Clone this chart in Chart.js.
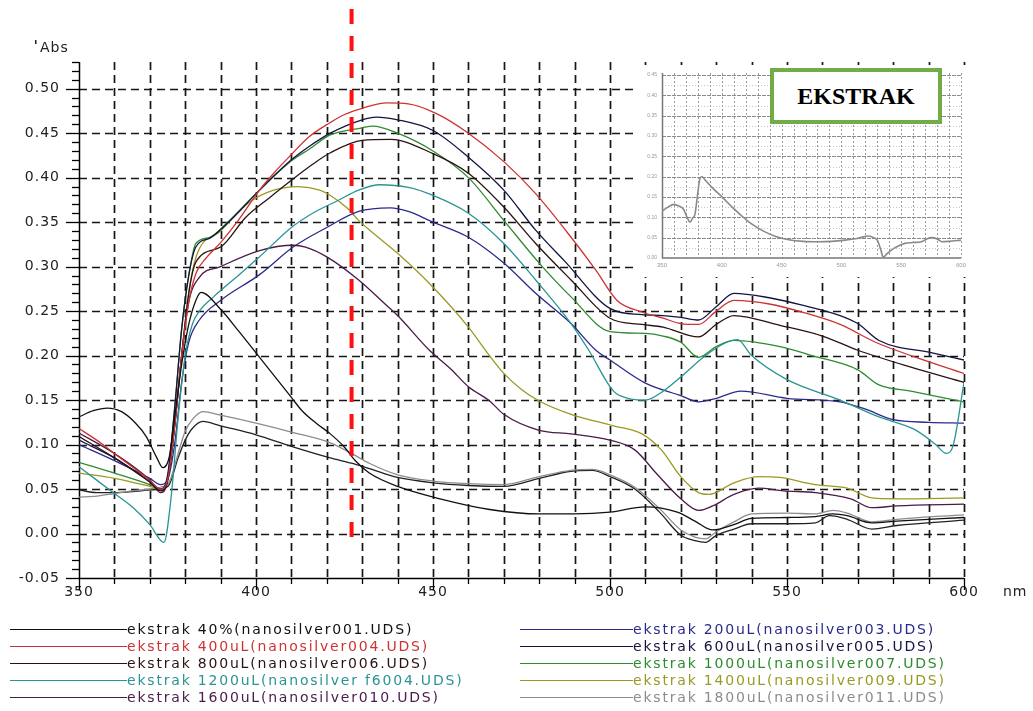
<!DOCTYPE html>
<html><head><meta charset="utf-8">
<script src="https://cdn.jsdelivr.net/npm/chart.js@4.4.1/dist/chart.umd.min.js"></script>
<style>
html,body{margin:0;padding:0;background:#fff;}
#wrap{position:relative;width:1033px;height:711px;overflow:hidden;background:#fff;}
#main{position:absolute;left:0;top:0;}
#insetBox{position:absolute;left:637px;top:65px;width:333px;height:212px;background:#fff;}
#ekstrak{position:absolute;left:770px;top:68px;width:164px;height:48px;border:4px solid #70AD47;background:#fff;
  font:bold 24px 'Liberation Serif','Times New Roman',serif;display:flex;align-items:center;justify-content:center;color:#000;}
.leg{position:absolute;font:14px 'DejaVu Sans',sans-serif;letter-spacing:1.8px;white-space:nowrap;height:17px;line-height:17px;}
.leg .ln{position:absolute;top:8px;height:1.3px;}
.leg .tx{position:absolute;top:0;}
</style></head>
<body>
<div id="wrap">
  <canvas id="main" width="1033" height="711"></canvas>
  <div id="insetBox"><canvas id="inset" width="333" height="212"></canvas></div>
  <div id="ekstrak">EKSTRAK</div>
</div>
<script>
// ---------------- DATA ----------------
const xTickValues = [350,360,370,380,390,400,410,420,430,440,450,460,470,480,490,500,510,520,530,540,550,560,570,580,590,600];
const xTickLabels = [350,400,450,500,550,600];
const yTickValues = [-0.05,0,0.05,0.10,0.15,0.20,0.25,0.30,0.35,0.40,0.45,0.50];
const redMarkerNm = 427;

const s40 = [[350,0.131],[354,0.138],[358,0.141],[362,0.137],[366,0.124],[369,0.109],[372,0.085],[373.7,0.074],[375.5,0.086],[377,0.13],[379,0.19],[381,0.235],[383,0.262],[384.5,0.271],[390,0.252],[395,0.228],[400,0.203],[405,0.178],[410,0.153],[413,0.138],[417,0.124],[421,0.112],[425,0.097],[428,0.082],[432,0.068],[440,0.053],[452,0.039],[466,0.027],[480,0.022],[490,0.022],[500,0.024],[510,0.03],[519,0.024],[524,0.014],[529,0.004],[535,0.01],[540,0.017],[550,0.018],[558,0.019],[563,0.022],[567,0.02],[574,0.012],[581,0.014],[600,0.018]];
const s400 = [[350,0.118],[355,0.105],[360,0.09],[365,0.075],[370,0.06],[373,0.05],[375,0.06],[377,0.12],[379,0.2],[381,0.26],[383,0.292],[386,0.31],[390,0.327],[395,0.352],[401,0.386],[405,0.405],[410,0.426],[415,0.446],[421,0.462],[425,0.471],[430,0.478],[437,0.484],[443,0.483],[451,0.472],[460,0.45],[470,0.418],[479,0.382],[489,0.333],[496,0.296],[502,0.262],[509,0.249],[515,0.242],[520,0.236],[525,0.235],[530,0.25],[535,0.262],[545,0.258],[555,0.248],[565,0.235],[575,0.215],[585,0.2],[600,0.18]];
const s800 = [[350,0.109],[360,0.085],[370,0.058],[373,0.048],[375,0.06],[377,0.12],[379,0.2],[381,0.27],[383,0.305],[390,0.322],[397,0.355],[404,0.378],[410,0.397],[416,0.415],[421,0.428],[430,0.442],[438,0.443],[450,0.427],[460,0.405],[470,0.367],[479,0.326],[489,0.285],[500,0.242],[509,0.235],[515,0.232],[525,0.221],[530,0.235],[535,0.245],[548,0.234],[560,0.222],[570,0.206],[585,0.187],[600,0.17]];
const s1200 = [[350,0.075],[355,0.06],[360,0.045],[365,0.03],[370,0.01],[374,-0.01],[376,0.04],[378,0.13],[380,0.2],[382,0.235],[384,0.25],[388,0.266],[395,0.29],[401,0.311],[410,0.344],[416,0.36],[423,0.374],[429,0.386],[435,0.392],[443,0.389],[450,0.38],[460,0.36],[470,0.326],[479,0.285],[489,0.236],[494,0.206],[501,0.16],[505,0.152],[510,0.15],[515,0.16],[520,0.176],[527,0.2],[533,0.215],[536,0.218],[540,0.2],[550,0.173],[565,0.15],[576,0.131],[586,0.117],[592,0.1],[595,0.09],[597,0.1],[600,0.17]];
const s1600 = [[350,0.113],[360,0.09],[370,0.06],[373,0.046],[375,0.058],[377,0.12],[379,0.2],[381,0.26],[384,0.288],[390,0.3],[401,0.318],[410.5,0.324],[414,0.322],[420,0.311],[429,0.285],[437,0.256],[440,0.245],[449,0.206],[455,0.185],[460,0.165],[466,0.149],[470,0.134],[480,0.116],[489,0.112],[500,0.105],[507,0.094],[513,0.068],[520,0.039],[525,0.026],[529,0.031],[535,0.044],[542,0.051],[549,0.048],[558,0.046],[568,0.039],[574,0.029],[581,0.031],[600,0.033]];
const s200 = [[350,0.1],[360,0.082],[370,0.062],[373,0.055],[375,0.06],[377,0.1],[379,0.17],[381,0.215],[384,0.24],[390,0.262],[401,0.291],[410.5,0.322],[420,0.344],[429,0.362],[438,0.366],[443,0.362],[450,0.35],[460,0.333],[470,0.304],[479,0.27],[489,0.236],[496,0.206],[500,0.195],[510,0.169],[520,0.155],[525,0.148],[530,0.152],[537,0.16],[550,0.152],[565,0.148],[572,0.14],[580,0.128],[590,0.125],[600,0.124]];
const s600 = [[350,0.105],[360,0.085],[370,0.058],[373,0.05],[375,0.065],[377,0.14],[379,0.23],[381,0.29],[383,0.322],[387,0.332],[392,0.349],[401,0.386],[410,0.42],[415,0.435],[421,0.45],[430,0.465],[434,0.468],[440,0.465],[450,0.453],[460,0.423],[470,0.386],[479,0.341],[487,0.307],[500,0.253],[509,0.246],[515,0.245],[520,0.243],[525,0.24],[530,0.255],[535,0.27],[545,0.265],[554,0.257],[565,0.245],[570,0.236],[576,0.217],[591,0.203],[600,0.195]];
const s1000 = [[350,0.08],[360,0.068],[370,0.055],[373,0.05],[375,0.062],[377,0.14],[379,0.23],[381,0.29],[383,0.326],[387,0.333],[392,0.35],[401,0.386],[410,0.419],[415,0.432],[421,0.448],[430,0.456],[433,0.458],[440,0.45],[450,0.43],[460,0.4],[470,0.352],[480,0.304],[489,0.266],[500,0.227],[510,0.225],[515,0.222],[520,0.215],[525,0.198],[530,0.21],[535,0.217],[548,0.21],[557,0.2],[570,0.184],[576,0.167],[585,0.16],[600,0.148]];
const s1400 = [[350,0.068],[360,0.062],[370,0.053],[373,0.05],[375,0.06],[377,0.12],[379,0.2],[381,0.27],[383,0.31],[390,0.34],[398,0.372],[405,0.386],[412,0.39],[418,0.386],[421,0.38],[426,0.365],[429,0.352],[433,0.338],[440,0.315],[449,0.281],[460,0.232],[465,0.205],[470,0.18],[475,0.162],[480,0.149],[489,0.134],[501,0.121],[509,0.112],[514.5,0.094],[520,0.064],[525,0.046],[528,0.044],[535,0.057],[542,0.064],[548,0.063],[558,0.055],[567,0.051],[574,0.04],[581,0.039],[600,0.04]];
const s1800 = [[350,0.041],[355,0.042],[360,0.045],[365,0.048],[370,0.05],[373,0.052],[375.5,0.058],[378,0.09],[380,0.115],[382,0.128],[385,0.137],[390,0.133],[400,0.124],[410,0.114],[421,0.102],[427,0.09],[432,0.079],[440,0.066],[450,0.059],[460,0.056],[470,0.055],[480,0.064],[489,0.071],[495,0.072],[500,0.066],[507,0.052],[514,0.028],[520,0.004],[524,-0.004],[527,-0.006],[530,0.002],[535,0.013],[540,0.022],[550,0.023],[558,0.022],[563,0.026],[567,0.023],[574,0.013],[581,0.016],[600,0.021]];
const sUnlabeled = [[350,0.049],[355,0.046],[360,0.046],[365,0.047],[370,0.049],[373,0.05],[375.5,0.055],[378,0.085],[380,0.105],[382,0.118],[385,0.126],[390,0.121],[400,0.111],[410,0.098],[421,0.085],[427,0.079],[432,0.073],[440,0.063],[450,0.057],[460,0.054],[470,0.053],[480,0.062],[489,0.07],[495,0.071],[500,0.064],[507,0.05],[514,0.024],[520,-0.002],[524,-0.008],[527,-0.01],[530,-0.002],[535,0.005],[540,0.011],[550,0.011],[558,0.012],[562,0.02],[567,0.016],[574,0.005],[581,0.009],[600,0.015]];

const insetSpectrum = [[350,0.115],[355,0.125],[360,0.132],[364,0.128],[368,0.12],[371,0.1],[373.5,0.088],[375.5,0.098],[377.6,0.108],[379.5,0.15],[381.8,0.196],[383.5,0.2],[386,0.192],[393,0.17],[401,0.148],[408,0.127],[415,0.108],[422,0.09],[429,0.076],[437,0.063],[445,0.053],[456,0.045],[468,0.041],[481,0.04],[492,0.041],[503,0.044],[513,0.048],[523,0.054],[527,0.05],[530,0.044],[533,0.02],[535,0.002],[538,0.01],[542,0.02],[548,0.03],[553,0.036],[560,0.038],[567,0.04],[571,0.046],[575,0.05],[580,0.047],[584,0.04],[590,0.041],[600,0.044]];
const insetXTicks = [350,400,450,500,550,600];
const insetYTicks = [0,0.05,0.10,0.15,0.20,0.25,0.30,0.35,0.40,0.45];

const series = [
  {key:'40',   label:'ekstrak 40%(nanosilver001.UDS)',        color:'#111111', pts:s40},
  {key:'400',  label:'ekstrak 400uL(nanosilver004.UDS)',      color:'#cc3333', pts:s400},
  {key:'800',  label:'ekstrak 800uL(nanosilver006.UDS)',      color:'#2a1212', pts:s800},
  {key:'1200', label:'ekstrak 1200uL(nanosilver f6004.UDS)',  color:'#2a9494', pts:s1200},
  {key:'1600', label:'ekstrak 1600uL(nanosilver010.UDS)',     color:'#4a1a4a', pts:s1600},
  {key:'200',  label:'ekstrak 200uL(nanosilver003.UDS)',      color:'#2a2a8c', pts:s200},
  {key:'600',  label:'ekstrak 600uL(nanosilver005.UDS)',      color:'#141440', pts:s600},
  {key:'1000', label:'ekstrak 1000uL(nanosilver007.UDS)',     color:'#2e8b2e', pts:s1000},
  {key:'1400', label:'ekstrak 1400uL(nanosilver009.UDS)',     color:'#9a9a22', pts:s1400},
  {key:'1800', label:'ekstrak 1800uL(nanosilver011.UDS)',     color:'#8c8c8c', pts:s1800},
  {key:'x',    label:'',                                      color:'#222222', pts:sUnlabeled}
];
const legendLeft  = ['40','400','800','1200','1600'];
const legendRight = ['200','600','1000','1400','1800'];

// ---------------- MAIN CHART ----------------
const isMajor = v => Math.abs(v/0.05 - Math.round(v/0.05)) < 1e-6;
const axesPlugin = {
  id:'axesPlugin',
  beforeDraw(chart){ chart.ctx.letterSpacing = '1px'; },
  beforeDatasetsDraw(chart){
    const {ctx, chartArea:a, scales:{x,y}} = chart;
    ctx.save();
    ctx.strokeStyle = '#161616'; ctx.lineWidth = 1.7; ctx.setLineDash([8,5]);
    yTickValues.forEach(v => { if (v <= -0.049) return;
      const py = Math.round(y.getPixelForValue(v)) + 0.5;
      ctx.beginPath(); ctx.moveTo(a.left, py); ctx.lineTo(a.right, py); ctx.stroke(); });
    xTickValues.forEach(v => { if (v === 350) return;
      const px = Math.round(x.getPixelForValue(v)) + 0.5;
      ctx.beginPath(); ctx.moveTo(px, a.top); ctx.lineTo(px, a.bottom); ctx.stroke(); });
    ctx.setLineDash([]);
    ctx.strokeStyle = '#000'; ctx.lineWidth = 1.5;
    ctx.beginPath(); ctx.moveTo(a.left+0.5, a.top); ctx.lineTo(a.left+0.5, a.bottom+0.5); ctx.lineTo(a.right, a.bottom+0.5); ctx.stroke();
    ctx.lineWidth = 1.3;
    for (let i = 0; i <= 58; i++) {
      const v = -0.05 + i*0.01;
      const py = Math.round(y.getPixelForValue(v)) + 0.5;
      const len = isMajor(v) ? 13 : 7;
      ctx.beginPath(); ctx.moveTo(a.left - len, py); ctx.lineTo(a.left, py); ctx.stroke();
    }
    xTickValues.forEach(v => {
      const px = Math.round(x.getPixelForValue(v)) + 0.5;
      const len = (v % 50 === 0) ? 12 : 6;
      ctx.beginPath(); ctx.moveTo(px, a.bottom); ctx.lineTo(px, a.bottom + len); ctx.stroke();
    });
    ctx.restore();
  },
  afterDatasetsDraw(chart){
    const {ctx, scales:{x}} = chart;
    const px = x.getPixelForValue(redMarkerNm);
    ctx.save();
    ctx.strokeStyle = '#ff1010'; ctx.lineWidth = 4; ctx.setLineDash([15,12]);
    ctx.beginPath(); ctx.moveTo(px, 9); ctx.lineTo(px, 548); ctx.stroke();
    ctx.restore();
  },
  afterDraw(chart){
    const {ctx} = chart;
    ctx.save();
    ctx.letterSpacing = '1px';
    ctx.fillStyle = '#222'; ctx.font = '14px "DejaVu Sans", sans-serif';
    ctx.textBaseline = 'middle'; ctx.textAlign = 'left';
    ctx.fillText('Abs', 40, 48);
    ctx.fillText('nm', 1003, 592);
    ctx.fillRect(35, 40, 1.5, 4);
    ctx.restore();
  }
};

new Chart(document.getElementById('main').getContext('2d'), {
  type:'line',
  data:{ datasets: series.map(s => ({
    label:s.label, data:s.pts.map(([nm,v]) => ({x:nm, y:v})),
    borderColor:s.color, backgroundColor:s.color, borderWidth:1.3, pointRadius:0,
    cubicInterpolationMode:'monotone', fill:false })) },
  options:{
    responsive:false, animation:false, devicePixelRatio:1,
    layout:{ padding:{ left:0, top:62, right:69, bottom:103 } },
    plugins:{ legend:{display:false}, tooltip:{enabled:false} },
    scales:{
      x:{ type:'linear', min:350, max:600,
          afterBuildTicks: s => { s.ticks = xTickValues.map(v => ({value:v})); },
          afterFit: s => { s.height = 30; },
          grid:{display:false, drawTicks:false}, border:{display:false},
          ticks:{ autoSkip:false, maxRotation:0, padding:6, color:'#222',
                  font:{family:'DejaVu Sans', size:14},
                  callback: v => xTickLabels.includes(v) ? String(v) : '' } },
      y:{ type:'linear', min:-0.05, max:0.53,
          afterBuildTicks: s => { s.ticks = yTickValues.map(v => ({value:v})); },
          afterFit: s => { s.width = 79; },
          grid:{display:false, drawTicks:false}, border:{display:false},
          ticks:{ padding:19, color:'#222', font:{family:'DejaVu Sans', size:14},
                  callback: v => v.toFixed(2) } }
    }
  },
  plugins:[axesPlugin]
});

// ---------------- INSET ----------------
const insetPlugin = {
  id:'insetPlugin',
  beforeDatasetsDraw(chart){
    const {ctx, chartArea:a, scales:{x,y}} = chart;
    ctx.save();
    ctx.lineWidth = 1;
    ctx.strokeStyle = '#c4c4c4'; ctx.setLineDash([1,2]);
    for (let v = 0.025; v < 0.455; v += 0.05) {
      const py = Math.round(y.getPixelForValue(v)) + 0.5;
      ctx.beginPath(); ctx.moveTo(a.left, py); ctx.lineTo(a.right, py); ctx.stroke();
    }
    ctx.strokeStyle = '#9a9a9a'; ctx.setLineDash([2,2]);
    for (let v = 360; v <= 600; v += 10) {
      const px = Math.round(x.getPixelForValue(v)) + 0.5;
      ctx.beginPath(); ctx.moveTo(px, a.top); ctx.lineTo(px, a.bottom); ctx.stroke();
    }
    ctx.strokeStyle = '#8a8a8a'; ctx.setLineDash([4,1]);
    insetYTicks.forEach(v => { if (v === 0) return;
      const py = Math.round(y.getPixelForValue(v)) + 0.5;
      ctx.beginPath(); ctx.moveTo(a.left, py); ctx.lineTo(a.right, py); ctx.stroke(); });
    ctx.setLineDash([]);
    ctx.strokeStyle = '#777'; ctx.lineWidth = 1.5;
    ctx.beginPath(); ctx.moveTo(a.left+0.5, a.top); ctx.lineTo(a.left+0.5, a.bottom); ctx.lineTo(a.right, a.bottom); ctx.stroke();
    ctx.restore();
  }
};
new Chart(document.getElementById('inset').getContext('2d'), {
  type:'line',
  data:{ datasets:[{ label:'ekstrak', data: insetSpectrum.map(([nm,v]) => ({x:nm, y:v})),
    borderColor:'#8a8a8a', borderWidth:1.6, pointRadius:0, cubicInterpolationMode:'monotone', fill:false }] },
  options:{
    responsive:false, animation:false, devicePixelRatio:1,
    layout:{ padding:{ left:0, top:5, right:3, bottom:5 } },
    plugins:{ legend:{display:false}, tooltip:{enabled:false} },
    scales:{
      x:{ type:'linear', min:350, max:600,
          afterBuildTicks: s => { s.ticks = insetXTicks.map(v => ({value:v})); },
          afterFit: s => { s.height = 14; },
          grid:{display:false, drawTicks:false}, border:{display:false},
          ticks:{ autoSkip:false, maxRotation:0, padding:4, color:'#999', font:{size:6} } },
      y:{ type:'linear', min:0, max:0.455,
          afterBuildTicks: s => { s.ticks = insetYTicks.map(v => ({value:v})); },
          afterFit: s => { s.width = 25; },
          grid:{display:false, drawTicks:false}, border:{display:false},
          ticks:{ padding:5, color:'#999', font:{size:5}, callback: v => v.toFixed(2) } }
    }
  },
  plugins:[insetPlugin]
});

// ---------------- LEGEND (HTML) ----------------
const wrap = document.getElementById('wrap');
function addLegendColumn(keys, lineX, textX) {
  keys.forEach((k, i) => {
    const s = series.find(d => d.key === k);
    const row = document.createElement('div');
    row.className = 'leg';
    row.style.left = lineX + 'px';
    row.style.top = (621 + i*17) + 'px';
    const ln = document.createElement('span');
    ln.className = 'ln'; ln.style.left = '0px'; ln.style.width = (textX - lineX) + 'px';
    ln.style.background = s.color;
    const tx = document.createElement('span');
    tx.className = 'tx'; tx.style.left = (textX - lineX) + 'px'; tx.style.color = s.color;
    tx.textContent = s.label;
    row.appendChild(ln); row.appendChild(tx);
    wrap.appendChild(row);
  });
}
addLegendColumn(legendLeft, 10, 127);
addLegendColumn(legendRight, 520, 633);
</script>
</body></html>
